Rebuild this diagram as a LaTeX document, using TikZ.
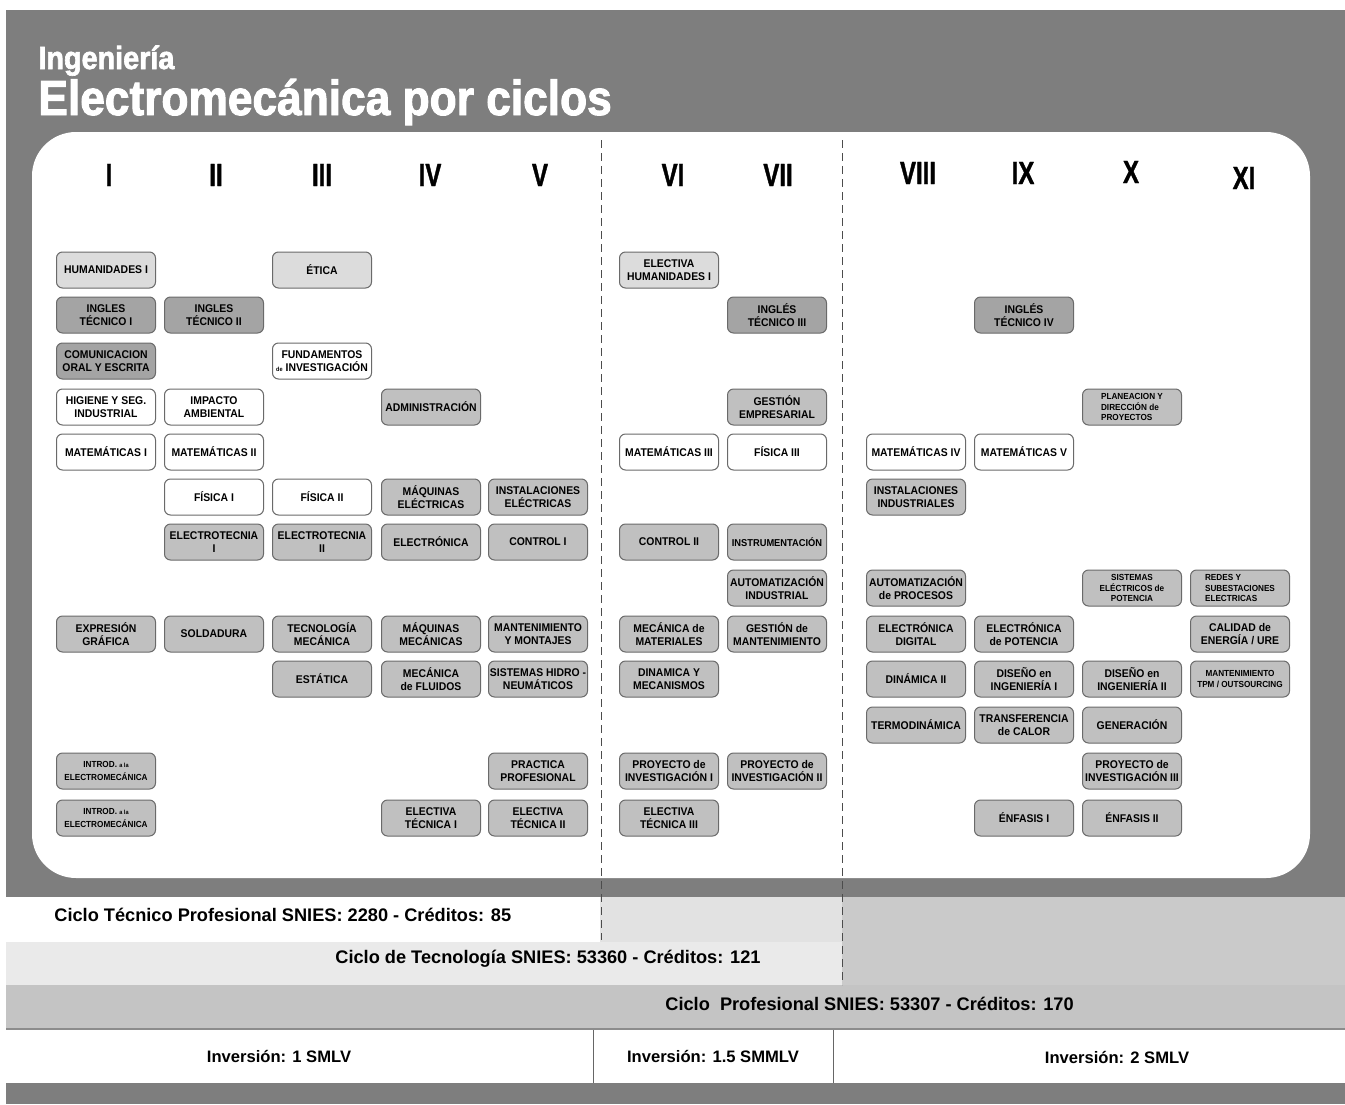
\documentclass[tikz,border=0pt]{standalone}
\usepackage{fontspec}
\setmainfont{Liberation Sans}
\newfontfamily\boxfont{Liberation Sans}[FakeStretch=0.93]
\newfontfamily\numfont{Liberation Sans}[FakeStretch=0.75, BoldFeatures={FakeBold=1.2}]
\newfontfamily\titlefont{Liberation Sans}[FakeStretch=0.9, BoldFeatures={FakeBold=2}]
\newcommand{\smalltxt}{\fontsize{4.4}{5.1}\selectfont}
\newcommand{\tinytxt}{\fontsize{3}{4}\selectfont}
\definecolor{framegray}{HTML}{7E7E7E}
\definecolor{boxline}{HTML}{6A6A6A}
\definecolor{lightbox}{HTML}{DCDCDC}
\definecolor{midbox}{HTML}{C0C0C0}
\definecolor{darkbox}{HTML}{A4A4A4}
\definecolor{paleband}{HTML}{E2E2E2}
\definecolor{tecband}{HTML}{EAEAEA}
\definecolor{sideband}{HTML}{CACACA}
\definecolor{profband}{HTML}{C4C4C4}

\begin{document}
\begin{tikzpicture}[x=0.5pt,y=-0.5pt]
        \tikzstyle{course}=[draw=boxline, line width=0.5pt, rounded corners=3pt, minimum width=49.5pt, minimum height=18pt, inner sep=0.5pt, align=center, font=\boxfont\bfseries\fontsize{5.6}{6.4}\selectfont];
        \tikzstyle{humbox}=[course, fill=lightbox];
        \tikzstyle{langbox}=[course, fill=darkbox];
        \tikzstyle{basebox}=[course, fill=white];
        \tikzstyle{techbox}=[course, fill=midbox];
        \tikzstyle{semester}=[font=\numfont\bfseries\fontsize{16}{16}\selectfont];
        \tikzstyle{cycle}=[font=\bfseries\fontsize{9.1}{10}\selectfont, anchor=west, inner sep=0pt];
        \tikzstyle{fee}=[font=\bfseries\fontsize{8.3}{9}\selectfont];
        \tikzstyle{divider}=[draw=black!70, line width=0.5pt, dash pattern=on 4pt off 2.5pt];

        \useasboundingbox (0,0) rectangle (1345,1104);
        % frame and panel
        \fill[white] (0,0) rectangle (1345,1104);
        \fill[framegray] (6,10) rectangle (1345,897);
        \fill[white, rounded corners=22pt] (32,132) rectangle (1310,878);
        \node[anchor=base west, text=white, font=\titlefont\bfseries\fontsize{16}{16}\selectfont, inner sep=0pt] (subj) at (38,69) {Ingeniería};
        \node[anchor=base west, text=white, font=\titlefont\bfseries\fontsize{24.6}{25}\selectfont, inner sep=0pt] (title) at (38,115) {Electromecánica por ciclos};

        % bands below
        \fill[white] (6,897) rectangle (600,942);
        \fill[paleband] (600,897) rectangle (842,942);
        \fill[tecband] (6,942) rectangle (842,985);
        \fill[sideband] (842,897) rectangle (1345,985);
        \fill[profband] (6,985) rectangle (1345,1028);
        \fill[black!45] (6,1028) rectangle (1345,1030);
        \fill[framegray] (6,1083) rectangle (1345,1104);

        % semesters
        \node[semester] (s1) at (109,175) {I};
        \node[semester] (s2) at (216,175) {II};
        \node[semester] (s3) at (322,175) {III};
        \node[semester] (s4) at (430,175) {IV};
        \node[semester] (s5) at (540,175) {V};
        \node[semester] (s6) at (673,175) {VI};
        \node[semester] (s7) at (778,175) {VII};
        \node[semester] (s8) at (918,173) {VIII};
        \node[semester] (s9) at (1023,173) {IX};
        \node[semester] (s10) at (1131,172) {X};
        \node[semester] (s11) at (1244,178) {XI};

        \draw[divider] (601,140) -- (601,940);
        \draw[divider] (842,140) -- (842,985);
        \draw[black!60, line width=0.5pt] (593,1030) -- (593,1083);
        \draw[black!60, line width=0.5pt] (833,1030) -- (833,1083);

        % I
        \node[humbox] (hum1) at (106,270) {HUMANIDADES I};
        \node[langbox] (ing1) at (106,315) {INGLES\\TÉCNICO I};
        \node[langbox] (com) at (106,361) {COMUNICACION\\ORAL Y ESCRITA};
        \node[basebox] (hig) at (106,407) {HIGIENE Y SEG.\\INDUSTRIAL};
        \node[basebox] (mat1) at (106,452) {MATEMÁTICAS I};
        \node[techbox] (expg) at (106,634) {EXPRESIÓN\\GRÁFICA};
        \node[techbox] (intro1) at (106,771) {\smalltxt INTROD. {\tinytxt a la}\\\smalltxt ELECTROMECÁNICA};
        \node[techbox] (intro2) at (106,818) {\smalltxt INTROD. {\tinytxt a la}\\\smalltxt ELECTROMECÁNICA};
        % II
        \node[langbox] (ing2) at (214,315) {INGLES\\TÉCNICO II};
        \node[basebox] (imp) at (214,407) {IMPACTO\\AMBIENTAL};
        \node[basebox] (mat2) at (214,452) {MATEMÁTICAS II};
        \node[basebox] (fis1) at (214,497) {FÍSICA I};
        \node[techbox] (eltc1) at (214,542) {ELECTROTECNIA\\I};
        \node[techbox] (sold) at (214,634) {SOLDADURA};
        % III
        \node[humbox] (eti) at (322,270) {ÉTICA};
        \node[basebox] (fund) at (322,361) {FUNDAMENTOS\\{\tinytxt de} INVESTIGACIÓN};
        \node[basebox] (fis2) at (322,497) {FÍSICA II};
        \node[techbox] (eltc2) at (322,542) {ELECTROTECNIA\\II};
        \node[techbox] (tecm) at (322,634) {TECNOLOGÍA\\MECÁNICA};
        \node[techbox] (est) at (322,679) {ESTÁTICA};
        % IV
        \node[techbox] (adm) at (431,407) {ADMINISTRACIÓN};
        \node[techbox] (maqe) at (431,497) {MÁQUINAS\\ELÉCTRICAS};
        \node[techbox] (elec) at (431,542) {ELECTRÓNICA};
        \node[techbox] (maqm) at (431,634) {MÁQUINAS\\MECÁNICAS};
        \node[techbox] (mecf) at (431,679) {MECÁNICA\\de FLUIDOS};
        \node[techbox] (etec1) at (431,818) {ELECTIVA\\TÉCNICA I};
        % V
        \node[techbox] (inste) at (538,497) {INSTALACIONES\\ELÉCTRICAS};
        \node[techbox] (ctl1) at (538,542) {CONTROL I};
        \node[techbox] (mant) at (538,634) {MANTENIMIENTO\\Y MONTAJES};
        \node[techbox] (hidro) at (538,679) {SISTEMAS HIDRO -\\NEUMÁTICOS};
        \node[techbox] (prac) at (538,771) {PRACTICA\\PROFESIONAL};
        \node[techbox] (etec2) at (538,818) {ELECTIVA\\TÉCNICA II};
        % VI
        \node[humbox] (elhum) at (669,270) {ELECTIVA\\HUMANIDADES I};
        \node[basebox] (mat3) at (669,452) {MATEMÁTICAS III};
        \node[techbox] (ctl2) at (669,542) {CONTROL II};
        \node[techbox] (mecmat) at (669,634) {MECÁNICA de\\MATERIALES};
        \node[techbox] (dinm) at (669,679) {DINAMICA Y\\MECANISMOS};
        \node[techbox] (proy1) at (669,771) {PROYECTO de\\INVESTIGACIÓN I};
        \node[techbox] (etec3) at (669,818) {ELECTIVA\\TÉCNICA III};
        % VII
        \node[langbox] (ing3) at (777,315) {INGLÉS\\TÉCNICO III};
        \node[techbox] (gest) at (777,407) {GESTIÓN\\EMPRESARIAL};
        \node[basebox] (fis3) at (777,452) {FÍSICA III};
        \node[techbox, font=\boxfont\bfseries\fontsize{5}{6}\selectfont] (instr) at (777,542) {INSTRUMENTACIÓN};
        \node[techbox] (autind) at (777,588) {AUTOMATIZACIÓN\\INDUSTRIAL};
        \node[techbox] (gestm) at (777,634) {GESTIÓN de\\MANTENIMIENTO};
        \node[techbox] (proy2) at (777,771) {PROYECTO de\\INVESTIGACIÓN II};
        % VIII
        \node[basebox] (mat4) at (916,452) {MATEMÁTICAS IV};
        \node[techbox] (insti) at (916,497) {INSTALACIONES\\INDUSTRIALES};
        \node[techbox] (autproc) at (916,588) {AUTOMATIZACIÓN\\de PROCESOS};
        \node[techbox] (eldig) at (916,634) {ELECTRÓNICA\\DIGITAL};
        \node[techbox] (din2) at (916,679) {DINÁMICA II};
        \node[techbox] (termo) at (916,725) {TERMODINÁMICA};
        % IX
        \node[langbox] (ing4) at (1024,315) {INGLÉS\\TÉCNICO IV};
        \node[basebox] (mat5) at (1024,452) {MATEMÁTICAS V};
        \node[techbox] (elpot) at (1024,634) {ELECTRÓNICA\\de POTENCIA};
        \node[techbox] (dis1) at (1024,679) {DISEÑO en\\INGENIERÍA I};
        \node[techbox] (trans) at (1024,725) {TRANSFERENCIA\\de CALOR};
        \node[techbox] (enf1) at (1024,818) {ÉNFASIS I};
        % X
        \node[techbox, align=left, font=\boxfont\bfseries\smalltxt] (plan) at (1132,407) {PLANEACION Y\\DIRECCIÓN de\\PROYECTOS};
        \node[techbox, font=\boxfont\bfseries\smalltxt] (sep) at (1132,588) {SISTEMAS\\ELÉCTRICOS de\\POTENCIA};
        \node[techbox] (dis2) at (1132,679) {DISEÑO en\\INGENIERÍA II};
        \node[techbox] (gen) at (1132,725) {GENERACIÓN};
        \node[techbox] (proy3) at (1132,771) {PROYECTO de\\INVESTIGACIÓN III};
        \node[techbox] (enf2) at (1132,818) {ÉNFASIS II};
        % XI
        \node[techbox, align=left, font=\boxfont\bfseries\smalltxt] (redes) at (1240,588) {REDES Y\\SUBESTACIONES\\ELECTRICAS};
        \node[techbox] (cal) at (1240,634) {CALIDAD de\\ENERGÍA / URE};
        \node[techbox, font=\boxfont\bfseries\smalltxt] (tpm) at (1240,679) {MANTENIMIENTO\\TPM / OUTSOURCING};

        % cycles
        \node[cycle] (ctec) at (54,915) {Ciclo Técnico Profesional SNIES: 2280 - Créditos: 85};
        \node[cycle] (ctgl) at (335,959) {Ciclo de Tecnología SNIES: 53360 - Créditos: 121};
        \node[cycle] (cpro) at (665,1004) {Ciclo\ \ Profesional SNIES: 53307 - Créditos: 170};
        \node[fee] (inv1) at (279,1056) {Inversión: 1 SMLV};
        \node[fee] (inv2) at (713,1056) {Inversión: 1.5 SMMLV};
        \node[fee] (inv3) at (1117,1057) {Inversión: 2 SMLV};
    \end{tikzpicture}
\end{document}
